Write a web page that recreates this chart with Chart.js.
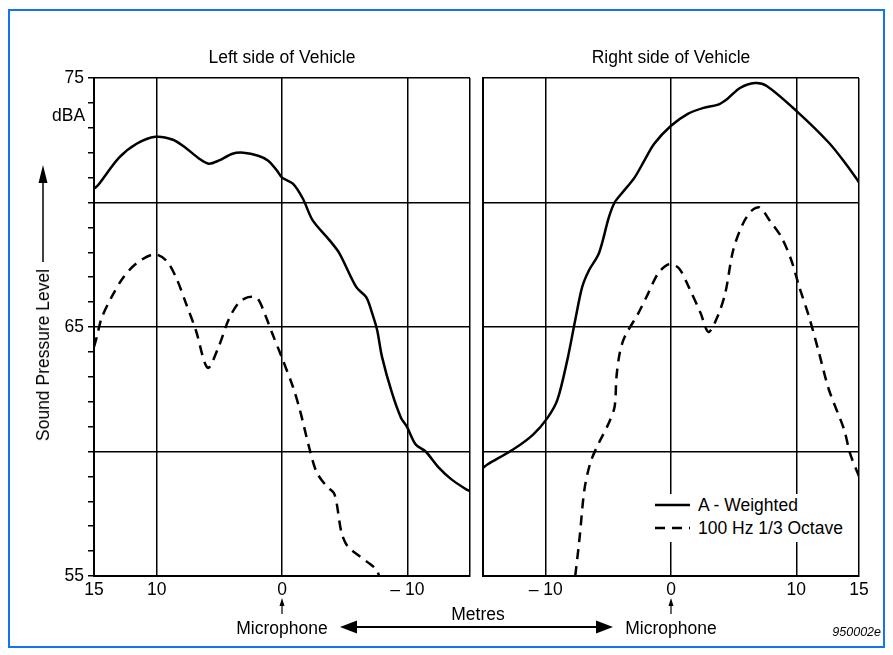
<!DOCTYPE html>
<html>
<head>
<meta charset="utf-8">
<script src="https://cdn.jsdelivr.net/npm/chart.js@4/dist/chart.umd.min.js"></script>
<style>
  html,body{margin:0;padding:0;background:#fff;}
  #wrap{position:relative;width:893px;height:655px;overflow:hidden;font-family:"Liberation Sans",Arial,sans-serif;color:#000;}
  canvas{position:absolute;left:0;top:0;}
  .t{position:absolute;white-space:nowrap;font-size:17.5px;line-height:20px;}
  svg{position:absolute;left:0;top:0;}
  #legend{position:absolute;left:650px;top:494px;width:204px;height:48px;background:#fff;}
</style>
</head>
<body>
<div id="wrap">
  <svg width="893" height="655">
    <rect x="9" y="10" width="875" height="637" fill="none" stroke="#1473f0" stroke-width="2"/>
    <line x1="43" y1="262" x2="43" y2="178" stroke="#000" stroke-width="1.5"/>
    <polygon points="43,165 38.5,183 47.5,183" fill="#000"/>
    <line x1="282" y1="614" x2="282" y2="605" stroke="#000" stroke-width="1.2"/>
    <polygon points="282,598 279.5,606 284.5,606" fill="#000"/>
    <line x1="671" y1="614" x2="671" y2="605" stroke="#000" stroke-width="1.2"/>
    <polygon points="671,598 668.5,606 673.5,606" fill="#000"/>
    <line x1="352" y1="627" x2="600" y2="627" stroke="#000" stroke-width="2"/>
    <polygon points="340,627 357,620.5 357,633.5" fill="#000"/>
    <polygon points="613,627 596,620.5 596,633.5" fill="#000"/>
  </svg>
  <canvas id="cL" width="893" height="655"></canvas>
  <canvas id="cR" width="893" height="655"></canvas>
  <div class="t" style="left:282px;top:47px;transform:translateX(-50%);">Left side of Vehicle</div>
  <div class="t" style="left:671px;top:47px;transform:translateX(-50%);">Right side of Vehicle</div>
  <div class="t" style="left:52px;top:105px;">dBA</div>
  <div class="t" style="left:43px;top:355px;transform:translate(-50%,-50%) rotate(-90deg);">Sound Pressure Level</div>
  <div class="t" style="left:282px;top:618px;transform:translateX(-50%);">Microphone</div>
  <div class="t" style="left:671px;top:618px;transform:translateX(-50%);">Microphone</div>
  <div class="t" style="left:478px;top:604px;transform:translateX(-50%);">Metres</div>
  <div class="t" style="right:12px;top:625px;font-size:12.5px;line-height:14px;font-style:italic;">950002e</div>
  <div id="legend">
    <svg width="204" height="48" style="position:absolute;left:0;top:0;">
      <line x1="5" y1="11" x2="40" y2="11" stroke="#000" stroke-width="2.5"/>
      <line x1="5" y1="34" x2="40" y2="34" stroke="#000" stroke-width="2.5" stroke-dasharray="10,7"/>
    </svg>
    <div class="t" style="left:48px;top:1px;">A - Weighted</div>
    <div class="t" style="left:48px;top:24px;">100 Hz 1/3 Octave</div>
  </div>
</div>
<script>
// ---------- data ----------
const Y_MIN = 55, Y_MAX = 75;
const Y_LABELS = [55, 65, 75];
const Y_GRID = [55, 60, 65, 70, 75];

const LEFT_TICKS = [15, 10, 0, -10, -15];
const LEFT_TICK_LABELS = ['15', '10', '0', '– 10', ''];
const RIGHT_TICKS = [-15, -10, 0, 10, 15];
const RIGHT_TICK_LABELS = ['', '– 10', '0', '10', '15'];

// Left side of vehicle — A-weighted (metres, dBA)
const leftA_x = [15, 14.7, 13, 11.6, 10.1, 8.7, 7.7, 6.6, 5.85, 5.06, 3.95, 3.08, 1.9, 1.1, 0.4, 0, -0.87, -1.66, -2.45, -3.8, -4.58, -5.93, -6.72, -7.19, -7.59, -7.98, -8.77, -9.49, -9.96, -10.67, -11.46, -12.49, -13.52, -14.7, -15];
const leftA_y = [70.55, 70.68, 71.8, 72.36, 72.64, 72.52, 72.2, 71.76, 71.56, 71.68, 71.96, 72.0, 71.88, 71.68, 71.28, 71.0, 70.76, 70.16, 69.28, 68.48, 67.96, 66.6, 66.2, 65.56, 64.88, 63.8, 62.36, 61.36, 61.0, 60.28, 60.0, 59.36, 58.88, 58.48, 58.4];
// Left side — 100 Hz 1/3 octave
const leftO_x = [15, 14.78, 14.39, 13.6, 12.65, 11.6, 10.2, 9.25, 8.46, 7.67, 6.88, 5.93, 5.06, 4.27, 3.48, 2.69, 1.98, 1.34, 0.79, 0, -0.87, -1.42, -2.21, -2.77, -3.56, -4.19, -4.74, -5.22, -6.17, -7.51, -7.75];
const leftO_y = [64.2, 64.6, 65.36, 66.2, 67.0, 67.56, 67.92, 67.68, 67.0, 65.96, 64.88, 63.36, 64.2, 65.28, 65.96, 66.2, 66.16, 65.48, 64.76, 63.76, 62.6, 61.68, 60.08, 59.16, 58.6, 58.28, 56.76, 56.2, 55.8, 55.28, 55.0];
// Right side of vehicle — A-weighted
const rightA_x = [-15, -14.65, -12.6, -11.0, -9.84, -9.06, -8.27, -7.64, -7.09, -6.54, -5.75, -4.96, -4.5, -3.94, -2.91, -2.13, -1.34, 0, 1.34, 2.6, 3.7, 4.49, 5.5, 6.7, 7.64, 10.0, 12.6, 13.94, 14.8, 15];
const rightA_y = [59.35, 59.48, 60.08, 60.68, 61.36, 62.08, 63.68, 65.28, 66.6, 67.28, 67.96, 69.4, 70.0, 70.36, 71.0, 71.68, 72.36, 73.08, 73.56, 73.8, 73.92, 74.16, 74.6, 74.8, 74.68, 73.68, 72.4, 71.56, 70.96, 70.8];
// Right side — 100 Hz 1/3 octave
const rightO_x = [-7.64, -7.3, -6.9, -6.4, -5.7, -5.0, -4.5, -4.35, -4.09, -3.7, -2.6, -1.81, -1.02, -0.16, 0.63, 1.42, 2.36, 2.99, 3.7, 4.33, 4.96, 5.75, 6.46, 7.09, 7.87, 8.82, 9.6, 10.24, 11.02, 11.81, 12.6, 13.8, 14.3, 15];
const rightO_y = [55.0, 56.5, 58.5, 59.6, 60.4, 61.1, 61.8, 63.0, 63.96, 64.6, 65.56, 66.36, 67.16, 67.52, 67.36, 66.6, 65.56, 64.8, 65.4, 66.36, 68.08, 69.16, 69.68, 69.8, 69.28, 68.6, 67.68, 66.6, 65.4, 63.96, 62.48, 60.9, 59.9, 59.0];

// ---------- helpers ----------
const pts = (xs, ys) => xs.map((x, i) => ({x: x, y: ys[i]}));
const FONT = {family: '"Liberation Sans", Arial, sans-serif', size: 17.5};

function lineDs(label, xs, ys, dashed) {
  return {
    label: label, data: pts(xs, ys), showLine: true, pointRadius: 0,
    borderColor: '#000', borderWidth: 2.5, tension: 0.3,
    borderDash: dashed ? [10, 7] : [], fill: false
  };
}

function makeChart(id, opts) {
  const xs = opts.ticks, xl = opts.labels;
  return new Chart(document.getElementById(id), {
    type: 'scatter',
    data: {datasets: [lineDs('A - Weighted', opts.ax, opts.ay, false), lineDs('100 Hz 1/3 Octave', opts.ox, opts.oy, true)]},
    options: {
      responsive: false, devicePixelRatio: 1, animation: false,
      events: [],
      layout: {padding: opts.padding},
      plugins: {legend: {display: false}, tooltip: {enabled: false}},
      scales: {
        x: {
          type: 'linear', min: -15, max: 15, reverse: opts.reverse,
          afterBuildTicks: s => { s.ticks = xs.map(v => ({value: v})); },
          afterFit: s => { s.height = 30; },
          grid: {color: '#000', lineWidth: 1.5, drawTicks: false},
          border: {color: '#000', width: 2},
          ticks: {
            color: '#000', font: FONT, padding: 4, autoSkip: false, maxRotation: 0,
            callback: (v) => { const i = xs.indexOf(v); return i >= 0 ? xl[i] : ''; }
          }
        },
        y: {
          type: 'linear', min: Y_MIN, max: Y_MAX,
          afterBuildTicks: s => { const t = []; for (let v = Y_MIN; v <= Y_MAX; v++) t.push({value: v}); s.ticks = t; },
          afterFit: s => { s.width = opts.yWidth; },
          grid: {
            color: c => (Y_GRID.includes(c.tick.value) ? '#000' : 'rgba(0,0,0,0)'),
            tickColor: '#000', lineWidth: 1.5,
            drawTicks: opts.yTicks, tickLength: 6
          },
          border: {color: '#000', width: 2},
          ticks: {
            display: opts.yTicks, color: '#000', font: FONT, padding: 4, autoSkip: false,
            callback: v => (Y_LABELS.includes(v) ? String(v) : '')
          }
        }
      }
    }
  });
}

makeChart('cL', {
  ax: leftA_x, ay: leftA_y, ox: leftO_x, oy: leftO_y,
  ticks: LEFT_TICKS, labels: LEFT_TICK_LABELS, reverse: true,
  yWidth: 40, yTicks: true,
  padding: {left: 54, right: 893 - 470, top: 78, bottom: 655 - 576 - 30}
});
makeChart('cR', {
  ax: rightA_x, ay: rightA_y, ox: rightO_x, oy: rightO_y,
  ticks: RIGHT_TICKS, labels: RIGHT_TICK_LABELS, reverse: false,
  yWidth: 0, yTicks: false,
  padding: {left: 483, right: 893 - 859, top: 78, bottom: 655 - 576 - 30}
});
</script>
</body>
</html>
